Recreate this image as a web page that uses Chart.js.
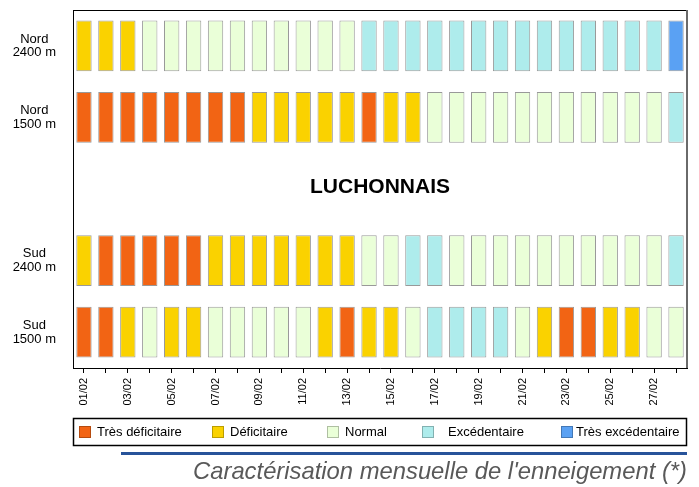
<!DOCTYPE html>
<html><head><meta charset="utf-8">
<script src="https://cdn.jsdelivr.net/npm/chart.js@4.4.0/dist/chart.umd.min.js"></script>
<style>html,body{margin:0;padding:0;background:#fff}</style>
</head><body>
<canvas id="c" width="699" height="487"></canvas>
<script>
// ---- data ----
const days = ['01/02','02/02','03/02','04/02','05/02','06/02','07/02','08/02','09/02','10/02','11/02','12/02','13/02','14/02',
              '15/02','16/02','17/02','18/02','19/02','20/02','21/02','22/02','23/02','24/02','25/02','26/02','27/02','28/02'];
const rowLabels = [['Nord','2400 m'], ['Nord','1500 m'], '', ['Sud','2400 m'], ['Sud','1500 m']];
const rowPositions = [0, 1, 3, 4];
const categories = ['Très déficitaire', 'Déficitaire', 'Normal', 'Excédentaire', 'Très excédentaire'];
// category index per day (0 = Très déficitaire ... 4 = Très excédentaire)
const nord2400 = [1,1,1,2,2,2,2,2,2,2,2,2,2,3,3,3,3,3,3,3,3,3,3,3,3,3,3,4];
const nord1500 = [0,0,0,0,0,0,0,0,1,1,1,1,1,0,1,1,2,2,2,2,2,2,2,2,2,2,2,3];
const sud2400  = [1,0,0,0,0,0,1,1,1,1,1,1,1,2,2,3,3,2,2,2,2,2,2,2,2,2,2,3];
const sud1500  = [0,0,1,2,1,1,2,2,2,2,2,1,0,1,1,2,3,3,3,3,2,1,0,0,1,1,2,2];
const zoneName = 'LUCHONNAIS';
const footerText = "Caractérisation mensuelle de l'enneigement (*)";

// ---- styles ----
const categoryColors = ['#f26414', '#fad200', '#eaffd8', '#aeecec', '#5aa1f3'];
const FONT = "'Liberation Sans', Arial, Helvetica, sans-serif";
const HALF = 0.355;

const rows = [nord2400, nord1500, sud2400, sud1500];
const datasets = rows.map((codes, r) => ({
  label: rowLabels[rowPositions[r]].join(' '),
  data: codes.map(() => [rowPositions[r] - HALF, rowPositions[r] + HALF]),
  backgroundColor: codes.map(c => categoryColors[c]),
  borderColor: 'rgba(0,0,0,0.4)',
  borderWidth: 1,
  borderSkipped: false,
  grouped: false,
  barPercentage: 0.7,
  categoryPercentage: 1.0
}));

const framePlugin = {
  id: 'frame',
  afterDatasetsDraw(chart) {
    const {ctx, chartArea: a, scales} = chart;
    ctx.save();
    ctx.strokeStyle = '#000'; ctx.lineWidth = 1;
    ctx.beginPath(); ctx.moveTo(a.left, a.top + 0.5); ctx.lineTo(a.right, a.top + 0.5); ctx.stroke();
    ctx.strokeStyle = '#6a6a6a'; ctx.lineWidth = 2;
    ctx.beginPath(); ctx.moveTo(a.right, a.top); ctx.lineTo(a.right, a.bottom); ctx.stroke();
    // zone name
    const y = scales.y.getPixelForValue(2);
    ctx.fillStyle = '#000';
    ctx.font = 'bold 21px ' + FONT;
    ctx.textAlign = 'center'; ctx.textBaseline = 'alphabetic';
    ctx.fillText(zoneName, (a.left + a.right) / 2, y + 4);
    ctx.restore();
  },
  afterDraw(chart) {
    const {ctx, chartArea: a} = chart;
    ctx.save();
    // legend box
    const top = 418, h = 27;
    ctx.strokeStyle = '#000'; ctx.lineWidth = 1.5;
    ctx.strokeRect(a.left + 0.5, top + 0.5, a.right - a.left - 1, h);
    const swX = [79, 212, 327, 422, 561];
    const txX = [97, 230, 345, 448, 576];
    ctx.font = '13px ' + FONT;
    ctx.textBaseline = 'middle'; ctx.textAlign = 'left';
    const cy = top + h / 2 + 0.5;
    categories.forEach((cat, i) => {
      ctx.fillStyle = categoryColors[i];
      ctx.fillRect(swX[i], cy - 6, 12, 12);
      ctx.strokeStyle = 'rgba(0,0,0,0.25)'; ctx.lineWidth = 1;
      ctx.strokeRect(swX[i] + 0.5, cy - 5.5, 11, 11);
      ctx.fillStyle = '#000';
      ctx.fillText(cat, txX[i], cy);
    });
    // blue rule
    ctx.fillStyle = '#27539a';
    ctx.fillRect(121, 452, a.right - 121, 3);
    // footer
    ctx.fillStyle = '#595959';
    ctx.font = 'italic 23.8px ' + FONT;
    ctx.textAlign = 'right'; ctx.textBaseline = 'alphabetic';
    ctx.fillText(footerText, a.right, 479);
    ctx.restore();
  }
};

new Chart(document.getElementById('c'), {
  type: 'bar',
  data: { labels: days, datasets },
  options: {
    responsive: false,
    animation: false,
    devicePixelRatio: 1,
    layout: { padding: { top: 10, right: 12, bottom: 77, left: 0 } },
    plugins: { legend: { display: false }, tooltip: { enabled: false }, title: { display: false } },
    scales: {
      x: {
        type: 'category',
        offset: true,
        grid: { display: true, drawOnChartArea: false, offset: false, drawTicks: true, tickLength: 5, color: '#000' },
        border: { display: true, color: '#000', width: 1 },
        ticks: {
          autoSkip: false, minRotation: 90, maxRotation: 90, padding: 5, color: '#000',
          font: { size: 11, family: FONT },
          callback: (v, i) => (i % 2 === 0 ? days[i] : '')
        },
        afterFit: s => { s.height = 42; s.paddingLeft = 0; s.paddingRight = 0; }
      },
      y: {
        type: 'linear', reverse: true, min: -0.5, max: 4.5,
        afterBuildTicks: s => { s.ticks = rowPositions.map(v => ({ value: v })); },
        grid: { display: false, drawTicks: false },
        border: { display: true, color: '#000', width: 1 },
        ticks: {
          crossAlign: 'center', padding: 17, color: '#000',
          font: { size: 13, family: FONT, lineHeight: 1.05 },
          callback: v => rowLabels[v]
        },
        afterFit: s => { s.width = 73; s.paddingTop = 0; s.paddingBottom = 0; }
      }
    }
  },
  plugins: [framePlugin]
});
</script>
</body></html>
